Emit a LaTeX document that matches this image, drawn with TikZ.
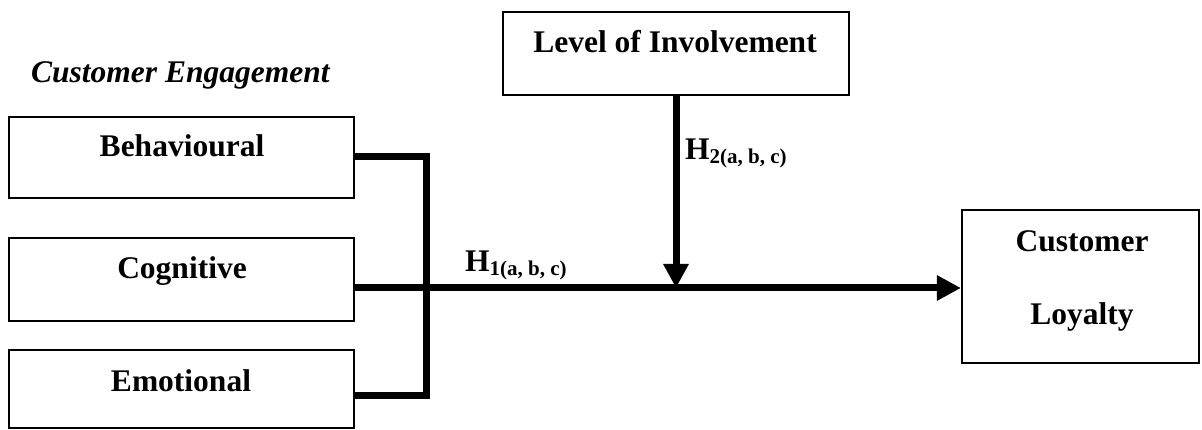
\documentclass[tikz,border=0pt]{standalone}
\usepackage{fontspec}
\setmainfont{Liberation Serif}
\usetikzlibrary{arrows.meta}
\newcommand{\hsub}[1]{H\raisebox{-4pt}{\fontsize{21}{21}\selectfont #1}}
\begin{document}
\begin{tikzpicture}[x=1pt,y=-1pt,
  box/.style={draw=black,line width=2.2pt,inner sep=0pt,rectangle},
  lbl/.style={inner sep=0pt,anchor=base,font=\fontsize{31.5}{36}\selectfont\bfseries},
  conn/.style={line width=7pt,line cap=butt,line join=miter},
  arr/.style={conn,-{Triangle[width=24pt,length=24pt]}}]
\useasboundingbox (0,0) rectangle (1202,430);
% boxes
\node[box,minimum width=345pt,minimum height=81pt] (beh) at (181.5,157.5) {};
\node[box,minimum width=345pt,minimum height=83pt] (cog) at (181.5,279.5) {};
\node[box,minimum width=345pt,minimum height=78pt] (emo) at (181.5,389) {};
\node[box,minimum width=346pt,minimum height=83pt] (inv) at (676,53.5) {};
\node[box,minimum width=237pt,minimum height=153pt] (loy) at (1080.5,286.5) {};
% texts
\node[lbl,anchor=base west,font=\fontsize{31.5}{36}\selectfont\bfseries\itshape] (ce) at (31,83) {Customer Engagement};
\node[lbl] (tbeh) at (182,157) {Behavioural};
\node[lbl] (tcog) at (182,279) {Cognitive};
\node[lbl] (temo) at (181,391) {Emotional};
\node[lbl] (tinv) at (675,53) {Level of Involvement};
\node[lbl] (tcus) at (1082,252) {Customer};
\node[lbl] (tloy) at (1082,324) {Loyalty};
\node[lbl,anchor=base west] (h1) at (465,272) {\hsub{1(a, b, c)}};
\node[lbl,anchor=base west] (h2) at (685,160) {\hsub{2(a, b, c)}};
% connectors
\coordinate (jb) at (426,157);
\coordinate (je) at (426,395);
\coordinate (jc) at (426,288);
\draw[conn] (beh.east |- jb) -- (jb) -- (je) -- (emo.east |- je);
\draw[arr] (cog.east |- jc) -- (loy.west |- jc);
\draw[arr] (inv.south) -- (inv.south |- jc);
\end{tikzpicture}
\end{document}
